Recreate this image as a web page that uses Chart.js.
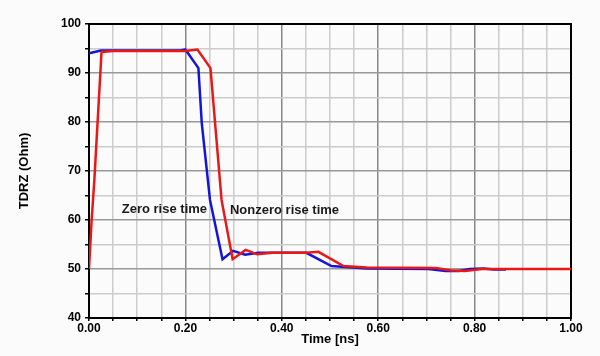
<!DOCTYPE html>
<html>
<head>
<meta charset="utf-8">
<script src="https://cdn.jsdelivr.net/npm/chart.js@4.4.1/dist/chart.umd.min.js"></script>
<style>
html,body{margin:0;padding:0;background:#fbfbfb;}
#wrap{width:600px;height:356px;}
</style>
</head>
<body>
<div id="wrap"><canvas id="c" width="600" height="356"></canvas></div>
<script>
// Zero rise time (blue)
const zeroTime = [0, 0.025, 0.10, 0.19, 0.20, 0.227, 0.234, 0.251, 0.277, 0.299, 0.324, 0.351, 0.451, 0.503, 0.576, 0.704, 0.740, 0.768, 0.790, 0.818, 0.840, 0.865];
const zeroTDRZ = [94.0, 94.6, 94.6, 94.6, 94.8, 91.0, 79.7, 64.1, 52.0, 53.7, 52.9, 53.3, 53.3, 50.6, 50.1, 50.0, 49.6, 49.6, 50.0, 50.1, 49.9, 49.9];
// Nonzero rise time (red)
const nonzeroTime = [0, 0.0055, 0.011, 0.026, 0.05, 0.20, 0.225, 0.252, 0.275, 0.298, 0.325, 0.349, 0.38, 0.45, 0.476, 0.528, 0.576, 0.72, 0.752, 0.78, 0.815, 1.00];
const nonzeroTDRZ = [50.0, 60.0, 68.0, 94.3, 94.5, 94.5, 94.8, 91.0, 64.1, 52.0, 53.9, 53.0, 53.3, 53.3, 53.5, 50.6, 50.3, 50.2, 49.7, 49.6, 50.0, 50.0];
const seriesNames = ["Zero rise time", "Nonzero rise time"];
const labelTime = [0.068, 0.2925];
const labelTDRZ = [62.2, 62.0];

const toPts = (xs, ys) => xs.map((x, i) => ({x: x, y: ys[i]}));
const FONT = "'Liberation Sans', Arial, sans-serif";

const bgPlugin = {
  id: 'bg',
  beforeDraw(chart) {
    const ctx = chart.ctx;
    ctx.save();
    ctx.fillStyle = '#fbfbfb';
    ctx.fillRect(0, 0, chart.width, chart.height);
    ctx.restore();
  },
  beforeDatasetsDraw(chart) {
    const a = chart.chartArea, ctx = chart.ctx;
    ctx.save();
    ctx.strokeStyle = '#000';
    ctx.lineWidth = 2;
    ctx.strokeRect(a.left, a.top, a.right - a.left, a.bottom - a.top);
    ctx.restore();
  },
  afterDatasetsDraw(chart) {
    const ctx = chart.ctx, xs = chart.scales.x, ys = chart.scales.y;
    ctx.save();
    ctx.font = "bold 13px " + FONT;
    ctx.fillStyle = '#1a1a1a';
    ctx.textBaseline = 'middle';
    ctx.textAlign = 'left';
    seriesNames.forEach((n, i) => {
      ctx.fillText(n, xs.getPixelForValue(labelTime[i]), ys.getPixelForValue(labelTDRZ[i]));
    });
    ctx.restore();
  }
};

new Chart(document.getElementById('c'), {
  type: 'line',
  data: {
    datasets: [
      {label: seriesNames[0], data: toPts(zeroTime, zeroTDRZ), borderColor: '#1414d8', borderWidth: 2.5, pointRadius: 0, tension: 0, fill: false, order: 2},
      {label: seriesNames[1], data: toPts(nonzeroTime, nonzeroTDRZ), borderColor: '#e81818', borderWidth: 2.5, pointRadius: 0, tension: 0, fill: false, order: 1}
    ]
  },
  options: {
    responsive: false,
    animation: false,
    layout: {padding: {top: 24, right: 29, left: 0, bottom: 0}},
    plugins: {legend: {display: false}, tooltip: {enabled: false}},
    scales: {
      x: {
        type: 'linear', min: 0, max: 1,
        afterFit(s) { s.height = 38; },
        afterBuildTicks(s) { s.ticks = Array.from({length: 21}, (_, i) => ({value: i * 0.05})); },
        ticks: {
          autoSkip: false, maxRotation: 0, padding: 0, color: '#000',
          font: {family: FONT, size: 12, weight: 'bold'},
          callback: (v, i) => (i % 4 === 0 ? v.toFixed(2) : '')
        },
        grid: {
          color: (c) => (c.index % 4 === 0 ? '#888888' : '#cccccc'),
          lineWidth: 1.5, tickLength: 3, tickColor: '#000'
        },
        border: {display: true, color: '#000', width: 2},
        title: {display: true, text: 'Time [ns]', color: '#000', font: {family: FONT, size: 13, weight: 'bold'}, padding: {top: 0, bottom: 9}}
      },
      y: {
        type: 'linear', min: 40, max: 100,
        afterFit(s) { s.width = 89; },
        afterBuildTicks(s) { s.ticks = Array.from({length: 13}, (_, i) => ({value: 40 + i * 5})); },
        ticks: {
          autoSkip: false, padding: 4, color: '#000',
          font: {family: FONT, size: 12, weight: 'bold'},
          callback: (v) => (v % 10 === 0 ? String(v) : '')
        },
        grid: {
          color: (c) => (c.tick && c.tick.value % 10 === 0 ? '#999999' : '#cccccc'),
          lineWidth: 1.5, tickLength: 4, tickColor: '#000'
        },
        border: {display: true, color: '#000', width: 2},
        title: {display: true, text: 'TDRZ (Ohm)', color: '#000', font: {family: FONT, size: 13, weight: 'bold'}, padding: {top: 17, bottom: 0}}
      }
    }
  },
  plugins: [bgPlugin]
});
</script>
</body>
</html>
